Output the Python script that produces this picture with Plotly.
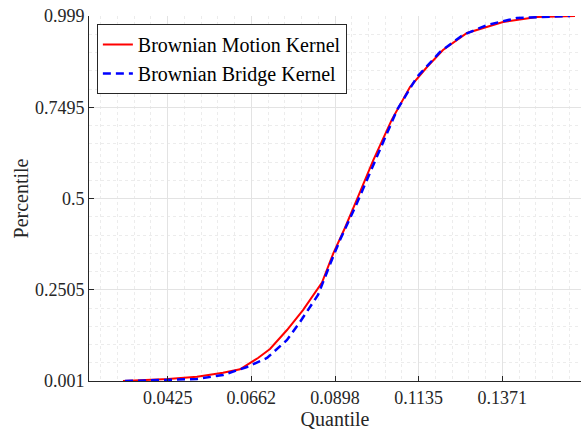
import plotly.graph_objects as go

# Brownian Motion Kernel (red, solid)
bm_quantile = [0.02986, 0.04258, 0.05078, 0.05813, 0.06294, 0.06803, 0.07142, 0.07623,
               0.08075, 0.08612, 0.08932, 0.09263, 0.09594, 0.10063, 0.10583, 0.11100,
               0.11581, 0.12033, 0.12712, 0.13730, 0.14691, 0.15765]
bm_percentile = [0.001, 0.0065, 0.0128, 0.0237, 0.0330, 0.0639, 0.0885, 0.1404,
                 0.1950, 0.2700, 0.3500, 0.4200, 0.4960, 0.6050, 0.7150, 0.8049,
                 0.8596, 0.9060, 0.9525, 0.9826, 0.9963, 0.999]

# Brownian Bridge Kernel (blue, dashed)
bb_quantile = [0.03043, 0.05078, 0.05813, 0.06492, 0.07057, 0.07623, 0.07990, 0.08499,
               0.08923, 0.09121, 0.09602, 0.10252, 0.10733, 0.11298, 0.11949, 0.12599,
               0.13277, 0.14126, 0.14974, 0.15625]
bb_percentile = [0.001, 0.0065, 0.0174, 0.0393, 0.0639, 0.1131, 0.1623, 0.2361,
                 0.3400, 0.3865, 0.4877, 0.6326, 0.7420, 0.8322, 0.9006, 0.9471,
                 0.9744, 0.9935, 0.9963, 0.999]

x_tickvals = [0.0425, 0.06615, 0.0898, 0.11345, 0.1371]
x_ticktext = ["0.0425", "0.0662", "0.0898", "0.1135", "0.1371"]
y_tickvals = [0.001, 0.2505, 0.5, 0.7495, 0.999]
y_ticktext = ["0.001", "0.2505", "0.5", "0.7495", "0.999"]

FONT = "Liberation Serif, Times New Roman, serif"
AX = "#262626"
GRID = "#e3e3e3"
MINOR = "#ececec"

fig = go.Figure()
fig.add_trace(go.Scatter(x=bm_quantile, y=bm_percentile, mode="lines",
                         name="Brownian Motion Kernel",
                         line=dict(color="#ff0000", width=2)))
fig.add_trace(go.Scatter(x=bb_quantile, y=bb_percentile, mode="lines",
                         name="Brownian Bridge Kernel",
                         line=dict(color="#0000ff", width=2.5, dash="8px,5px")))

fig.update_layout(
    width=581, height=433,
    margin=dict(l=89, r=0, t=16, b=52, autoexpand=False),
    paper_bgcolor="white", plot_bgcolor="white",
    font=dict(family=FONT, size=18, color=AX),
    showlegend=True,
    legend=dict(x=0.016, y=0.978, xanchor="left", yanchor="top",
                bgcolor="white", bordercolor=AX, borderwidth=1,
                font=dict(family=FONT, size=20, color="black"),
                itemwidth=30, tracegroupgap=0),
    xaxis=dict(range=[0.02025, 0.15935], tickmode="array",
               tickvals=x_tickvals, ticktext=x_ticktext,
               ticks="inside", ticklen=5, tickcolor=AX,
               showline=True, linecolor=AX, linewidth=1,
               showgrid=True, gridcolor=GRID, gridwidth=1,
               zeroline=False, automargin=False,
               tickfont=dict(family=FONT, size=18, color=AX),
               title=dict(text="Quantile", font=dict(family=FONT, size=20, color=AX),
                          standoff=2),
               minor=dict(tick0=0.0425, dtick=0.00473, showgrid=True,
                          gridcolor=MINOR, griddash="dot", ticks="")),
    yaxis=dict(range=[0.001, 0.999], tickmode="array",
               tickvals=y_tickvals, ticktext=y_ticktext,
               ticks="inside", ticklen=5, tickcolor=AX,
               showline=True, linecolor=AX, linewidth=1,
               showgrid=True, gridcolor=GRID, gridwidth=1,
               zeroline=False, automargin=False,
               tickfont=dict(family=FONT, size=18, color=AX),
               title=dict(text="Percentile", font=dict(family=FONT, size=20, color=AX),
                          standoff=0),
               minor=dict(tick0=0.001, dtick=0.0499, showgrid=True,
                          gridcolor=MINOR, griddash="dot", ticks="")),
)

fig.write_html("out.html", config={"displayModeBar": False},
               post_script="document.body.style.margin='0';document.body.style.overflow='hidden';")
